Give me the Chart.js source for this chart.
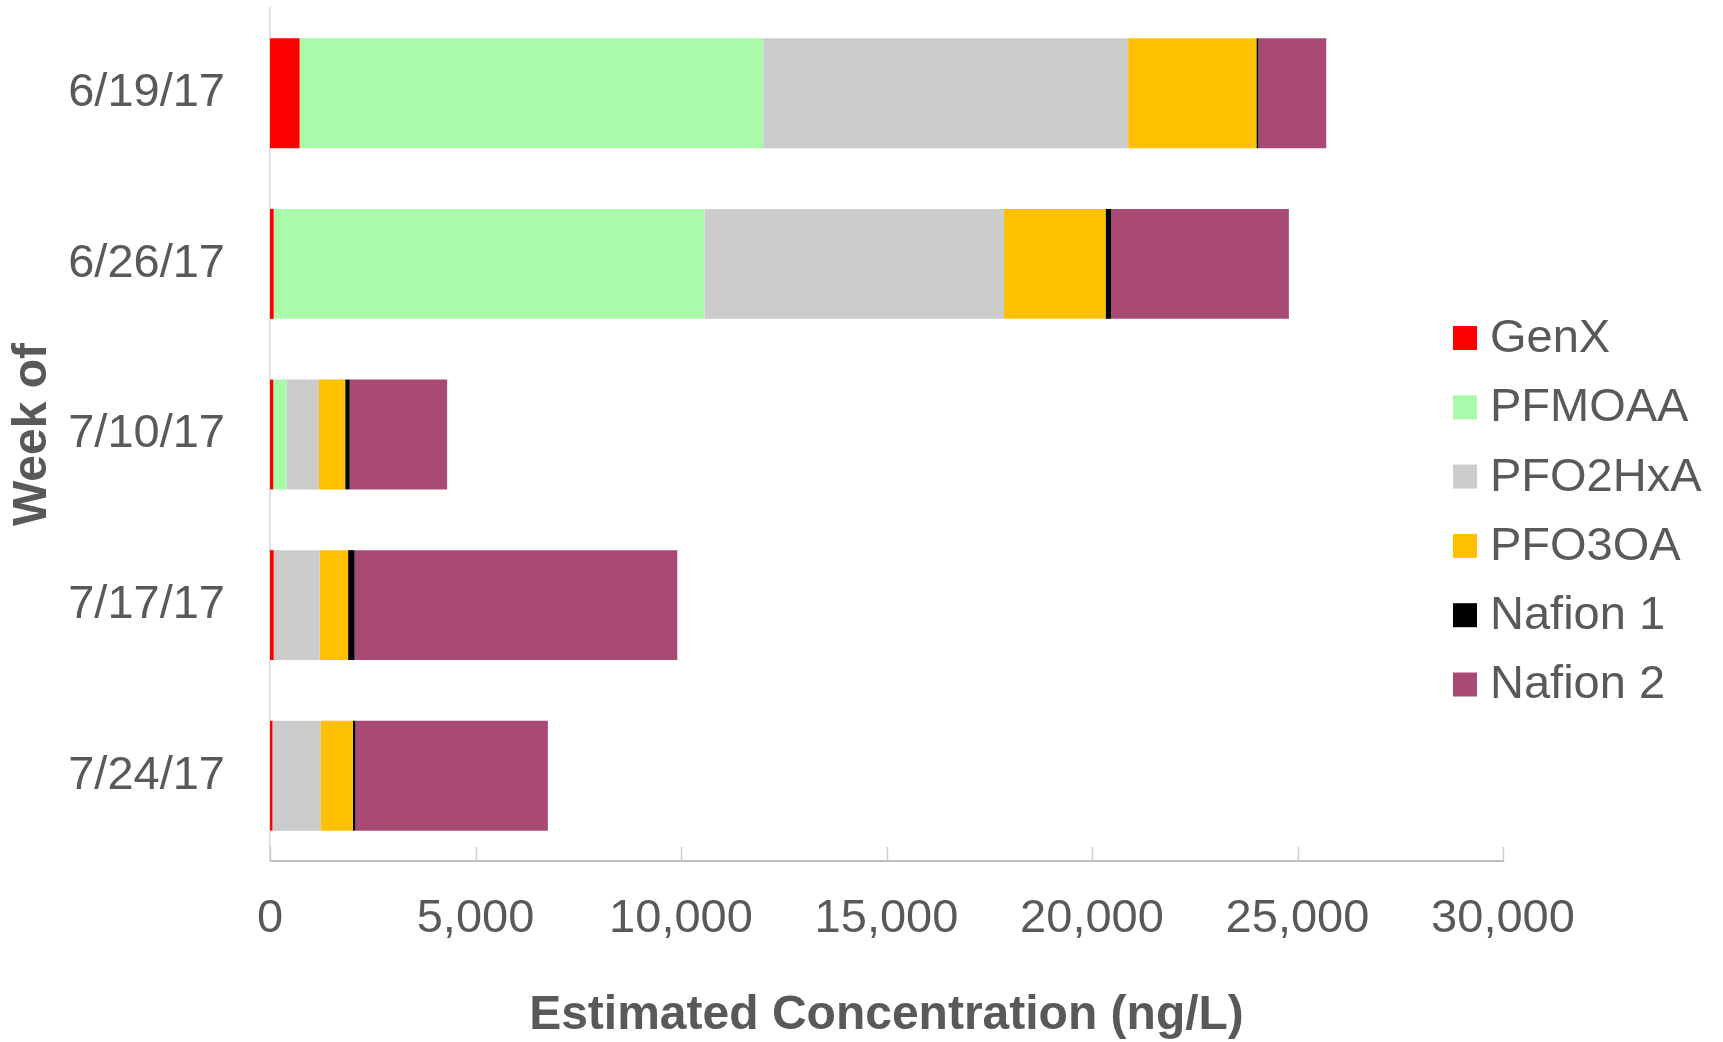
<!DOCTYPE html>
<html>
<head>
<meta charset="utf-8">
<title>Estimated Concentration by Week</title>
<script src="https://cdn.jsdelivr.net/npm/chart.js@4.4.1/dist/chart.umd.min.js"></script>
<style>
  html, body { margin: 0; padding: 0; background: #fff; }
  #wrap { width: 1723px; height: 1042px; }
</style>
</head>
<body>
<div id="wrap"><canvas id="chart" width="1723" height="1042"></canvas></div>
<script>
// weeks (categories) and per-compound concentrations, ng/L
const weeks = ['6/19/17', '6/26/17', '7/10/17', '7/17/17', '7/24/17'];
const genx = [720, 90, 80, 90, 60];
const pfmoaa = [11280, 10480, 320, 0, 0];
const pfo2hxa = [8880, 7290, 790, 1120, 1180];
const pfo3oa = [3120, 2470, 640, 690, 780];
const nafion1 = [50, 140, 110, 160, 60];
const nafion2 = [1650, 4320, 2370, 7850, 4680];
const xTicks = [0, 5000, 10000, 15000, 20000, 25000, 30000];

const textColor = '#595959';
const fontFamily = '"Liberation Sans", Arial, sans-serif';

function ds(label, data, color) {
  return {
    label: label,
    data: data,
    backgroundColor: color,
    borderWidth: 0,
    categoryPercentage: 1,
    barPercentage: 0.644
  };
}

// tick marks point inward (up from the x axis)
const innerTicks = {
  id: 'innerTicks',
  afterDatasetsDraw(chart) {
    const x = chart.scales.x;
    const ctx = chart.ctx;
    const bottom = chart.chartArea.bottom;
    ctx.save();
    ctx.strokeStyle = '#cfcfcf';
    ctx.lineWidth = 1.5;
    xTicks.forEach(v => {
      const px = Math.round(x.getPixelForValue(v)) + 0.5;
      ctx.beginPath();
      ctx.moveTo(px, bottom);
      ctx.lineTo(px, bottom - 14);
      ctx.stroke();
    });
    ctx.restore();
  }
};

// legend sits inside the plot, to the right, over empty space
const sideLegend = {
  id: 'sideLegend',
  afterDraw(chart) {
    const ctx = chart.ctx;
    ctx.save();
    ctx.font = '47px ' + fontFamily;
    ctx.textBaseline = 'middle';
    ctx.textAlign = 'left';
    chart.data.datasets.forEach((d, i) => {
      const cy = 338 + i * 69.3;
      ctx.fillStyle = d.backgroundColor;
      ctx.fillRect(1453, cy - 12, 24, 24);
      ctx.fillStyle = textColor;
      ctx.fillText(d.label, 1490, cy + 1);
    });
    ctx.restore();
  }
};

new Chart(document.getElementById('chart').getContext('2d'), {
  type: 'bar',
  data: {
    labels: weeks,
    datasets: [
      ds('GenX', genx, '#FF0000'),
      ds('PFMOAA', pfmoaa, '#A9FBA9'),
      ds('PFO2HxA', pfo2hxa, '#CCCCCC'),
      ds('PFO3OA', pfo3oa, '#FFC000'),
      ds('Nafion 1', nafion1, '#000000'),
      ds('Nafion 2', nafion2, '#A94A76')
    ]
  },
  options: {
    indexAxis: 'y',
    responsive: false,
    animation: false,
    devicePixelRatio: 1,
    layout: { padding: { top: 8, right: 220, bottom: 0, left: 0 } },
    plugins: {
      legend: { display: false },
      tooltip: { enabled: false }
    },
    scales: {
      x: {
        stacked: true,
        min: 0,
        max: 30000,
        afterFit(scale) {
          scale.height = 181;
          scale.paddingLeft = 0;
          scale.paddingRight = 0;
        },
        afterBuildTicks(scale) { scale.ticks = xTicks.map(v => ({ value: v })); },
        grid: { display: false, drawTicks: false },
        border: { display: true, color: '#bfbfbf', width: 2 },
        ticks: {
          padding: 30,
          color: textColor,
          font: { family: fontFamily, size: 47 },
          maxRotation: 0,
          callback: v => Number(v).toLocaleString('en-US')
        },
        title: {
          display: true,
          text: 'Estimated Concentration (ng/L)',
          color: textColor,
          font: { family: fontFamily, size: 48, weight: 'bold', lineHeight: 1.1 },
          padding: { top: 0, bottom: 0 }
        }
      },
      y: {
        stacked: true,
        afterFit(scale) {
          scale.width = 270;
          // keep the label padding from pushing the plot down
          scale.paddingTop = 0;
          scale.paddingBottom = 0;
        },
        grid: { display: false, drawTicks: false },
        border: { display: true, color: '#d9d9d9', width: 1.5 },
        ticks: {
          padding: 45,
          autoSkip: false,
          color: textColor,
          font: { family: fontFamily, size: 47 }
        },
        title: {
          display: true,
          text: 'Week of',
          color: textColor,
          font: { family: fontFamily, size: 48, weight: 'bold' },
          padding: { top: 4, bottom: 0 }
        }
      }
    }
  },
  plugins: [innerTicks, sideLegend]
});
</script>
</body>
</html>
